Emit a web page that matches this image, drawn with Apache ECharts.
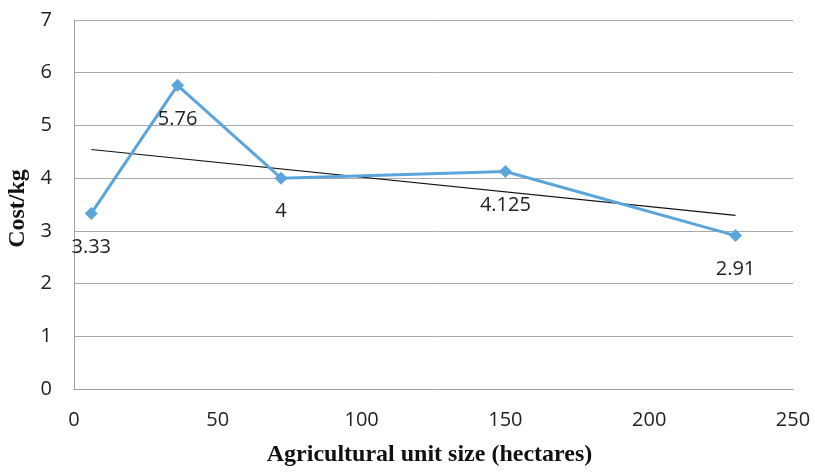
<!DOCTYPE html>
<html>
<head>
<meta charset="utf-8">
<script src="https://cdn.jsdelivr.net/npm/echarts@6/dist/echarts.min.js"></script>
<style>
  html, body { margin: 0; padding: 0; background: #fff; }
  #chart { width: 815px; height: 472px; }
</style>
</head>
<body>
<div id="chart"></div>
<script>
// Agricultural unit size (hectares) and cost per kg
const unitSize = [6, 36, 72, 150, 230];
const costPerKg = [3.33, 5.76, 4, 4.125, 2.91];
const xTicks = [0, 50, 100, 150, 200, 250];
const yTicks = [0, 1, 2, 3, 4, 5, 6, 7];

// Least-squares linear trendline across the data range
function linearFit(xs, ys) {
  const n = xs.length;
  const mx = xs.reduce((a, b) => a + b, 0) / n;
  const my = ys.reduce((a, b) => a + b, 0) / n;
  let sxy = 0, sxx = 0;
  for (let i = 0; i < n; i++) {
    sxy += (xs[i] - mx) * (ys[i] - my);
    sxx += (xs[i] - mx) * (xs[i] - mx);
  }
  const slope = sxy / sxx;
  return x => my + slope * (x - mx);
}
const fit = linearFit(unitSize, costPerKg);
const xFirst = unitSize[0], xLast = unitSize[unitSize.length - 1];
const trend = [[xFirst, fit(xFirst)], [xLast, fit(xLast)]];

const chart = echarts.init(document.getElementById('chart'));
const tickFont = { fontFamily: 'Open Sans', fontSize: 20, color: '#222' };
const titleFont = { fontFamily: 'Liberation Serif', fontWeight: 'bold', fontSize: 24, color: '#111' };

chart.setOption({
  animation: false,
  grid: { left: 74, right: 22, top: 20, bottom: 83, outerBoundsMode: 'none', containLabel: false },
  xAxis: {
    type: 'value',
    min: xTicks[0], max: xTicks[xTicks.length - 1], interval: 50,
    name: 'Agricultural unit size (hectares)',
    nameLocation: 'middle', nameGap: 54,
    nameTextStyle: Object.assign({ padding: [0, 8, 0, 0] }, titleFont),
    axisLine: { lineStyle: { color: '#a0a0a0', width: 1 } },
    axisTick: { show: false },
    axisLabel: Object.assign({ margin: 21 }, tickFont),
    splitLine: { show: false }
  },
  yAxis: {
    type: 'value',
    min: yTicks[0], max: yTicks[yTicks.length - 1], interval: 1,
    name: 'Cost/kg',
    nameLocation: 'middle', nameGap: 44, nameMoveOverlap: false,
    nameTextStyle: Object.assign({ padding: [0, 8, 0, 0] }, titleFont),
    axisLine: { show: true, lineStyle: { color: '#a0a0a0', width: 1 } },
    axisTick: { show: false },
    axisLabel: Object.assign({ margin: 22 }, tickFont),
    splitLine: { lineStyle: { color: '#a8a8a8', width: 1 } }
  },
  series: [
    {
      type: 'line',
      data: unitSize.map((x, i) => [x, costPerKg[i]]),
      lineStyle: { color: '#5aa5dc', width: 3 },
      itemStyle: { color: '#5aa5dc' },
      symbol: 'diamond', symbolSize: 13,
      label: {
        show: true, position: 'bottom', distance: 17,
        fontFamily: 'Open Sans', fontSize: 20, color: '#222',
        formatter: p => String(p.value[1])
      },
      z: 3
    },
    {
      type: 'line',
      data: trend,
      symbol: 'none',
      lineStyle: { color: '#111', width: 1.2 },
      silent: true,
      z: 2
    }
  ]
});
</script>
</body>
</html>
